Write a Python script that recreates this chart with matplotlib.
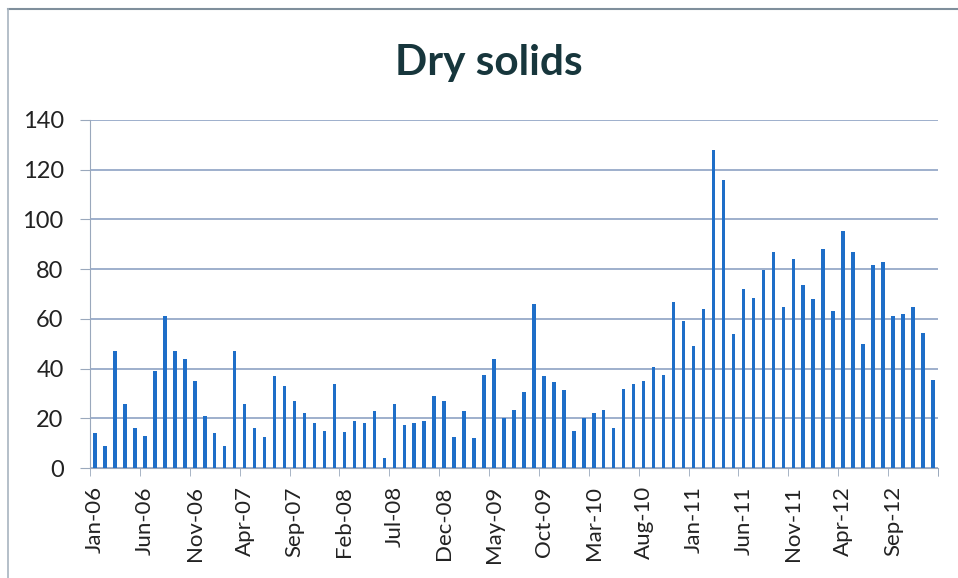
import matplotlib.pyplot as plt
import numpy as np
import pandas as pd

# monthly dry solids, Jan-06 .. Jan-13
months = pd.date_range('2006-01-01', periods=85, freq='MS').strftime('%b-%y').tolist()
dry_solids = [14, 9, 47, 26, 16, 13, 39, 61, 47, 44, 35, 21, 14, 9, 47, 26, 16, 12.5,
              37, 33, 27, 22, 18, 15, 34, 14.5, 19, 18, 23,
              4, 26, 17.5, 18, 19, 29, 27, 12.5, 23, 12, 37.5, 44, 20, 23.5, 30.5, 66,
              37, 34.5, 31.5, 15, 20, 22, 23.5, 16, 32, 34, 35, 40.5,
              37.5, 67, 59, 49, 64, 128, 116, 54, 72, 68.5, 79.5, 87, 65, 84, 73.5, 68,
              88, 63, 95.5, 87, 50, 81.5, 83, 61, 62, 65, 54.5, 35.5]
yticks = [0, 20, 40, 60, 80, 100, 120, 140]

plt.rcParams['font.family'] = ['Lato', 'DejaVu Sans']

fig = plt.figure(figsize=(9.58, 5.78), dpi=100)
ax = fig.add_axes([0.094, 0.19, 0.885, 0.6024])

x = np.arange(len(months))
ax.bar(x, dry_solids, width=0.35, color='#1e6ec8', zorder=3)

ax.set_xlim(-0.5, len(months) - 0.5)
ax.set_ylim(0, 140)
ax.set_yticks(yticks)
ax.set_yticklabels([str(v) for v in yticks], fontsize=17, color='#222222')
ax.grid(axis='y', color='#8da2c4', linewidth=1.2, zorder=0)

# labels every 5 months, tick marks on category boundaries
ax.set_xticks(x[::5])
ax.set_xticklabels(months[::5], rotation=90, fontsize=16, color='#222222')
ax.tick_params(axis='x', length=0, pad=13)
ax.set_xticks(list(np.arange(-0.5, len(months), 5)) + [len(months) - 0.5], minor=True)
ax.tick_params(axis='x', which='minor', length=6, color='#9aa8bc')
ax.tick_params(axis='y', length=7, color='#9aa8bc', pad=12)

for s in ['top', 'right']:
    ax.spines[s].set_visible(False)
ax.spines['left'].set_color('#9aa8bc')
ax.spines['bottom'].set_color('#9aa8bc')

fig.text(0.51, 0.891, 'Dry solids', ha='center', va='center', fontsize=30.5,
         fontweight='bold', color='#17363c')

# chart area border (cropped on right and bottom)
fig.add_artist(plt.Line2D([8 / 958, 1], [1 - 9 / 578] * 2, color='#7f8f9c', lw=1.5))
fig.add_artist(plt.Line2D([8 / 958] * 2, [0, 1 - 9 / 578], color='#a8b4c0', lw=1.2))

fig.savefig('out.png', dpi=100)
